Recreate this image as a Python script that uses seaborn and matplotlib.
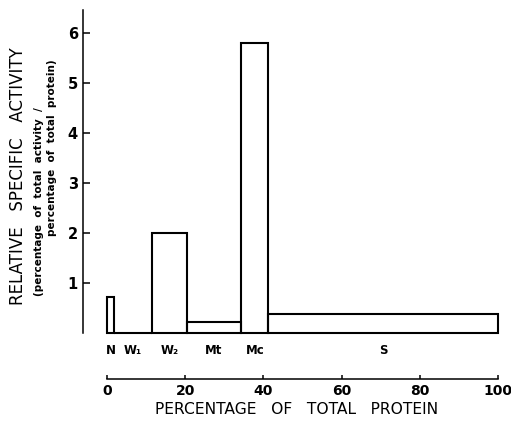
import numpy as np
import pandas as pd
import matplotlib
matplotlib.use("Agg")
import matplotlib.pyplot as plt
import seaborn as sns

# fractions, share of total protein (%), relative specific activity
fractions = ["N", "W\u2081", "W\u2082", "Mt", "Mc", "S"]
protein_pct = [1.8, 9.8, 8.8, 13.9, 7.0, 58.7]
rel_activity = [0.72, 0.0, 2.0, 0.23, 5.8, 0.39]
y_ticks = [1, 2, 3, 4, 5, 6]
x_ticks = [0, 20, 40, 60, 80, 100]

sns.set_style("ticks")
plt.rcParams['font.family'] = ['DejaVu Sans']
plt.rcParams.update({"text.color": "black", "axes.labelcolor": "black",
                     "xtick.color": "black", "ytick.color": "black"})

edges = [0.0] + list(np.cumsum(protein_pct))
centers = [(a + b) / 2 for a, b in zip(edges[:-1], edges[1:])]
df = pd.DataFrame({"fraction": fractions, "center": centers,
                   "rsa": rel_activity})

fig = plt.figure(figsize=(5.11, 4.24), dpi=100)
ax = fig.add_axes([107 / 511, 1 - 333 / 424, (498 - 107) / 511, (333 - 10) / 424])

sns.histplot(data=df, x="center", bins=edges, weights="rsa", fill=False,
             color="black", linewidth=1.5, clip_on=False, ax=ax)

ax.set_xlim(0, 100)
ax.set_ylim(0, 6.46)

# axes styling
ax.spines["top"].set_visible(False)
ax.spines["right"].set_visible(False)
ax.spines["left"].set_position(("outward", 17))
ax.spines["bottom"].set_position(("outward", 33))
for s in ("left", "bottom"):
    ax.spines[s].set_linewidth(1.1)
    ax.spines[s].set_color("black")

ax.set_yticks(y_ticks)
ax.set_yticklabels([str(v) for v in y_ticks], fontsize=10.5, fontweight="bold")
ax.set_xticks(x_ticks)
ax.set_xticklabels([str(v) for v in x_ticks], fontsize=10, fontweight="bold")
ax.tick_params(axis="y", direction="in", length=5, width=1.1, pad=4)
ax.tick_params(axis="x", direction="in", length=3, width=1.1, pad=4)

ax.set_xlabel("PERCENTAGE   OF   TOTAL   PROTEIN", fontsize=11.2, labelpad=0)
ax.xaxis.set_label_coords((297 - 107) / 391, -0.215)
ax.set_ylabel("")

# fraction names under the bars
for name, c in zip(fractions, centers):
    ax.text(c, -0.36, name, ha="center", va="center", fontsize=8.5,
            fontweight="bold")

# y axis titles
fig.text(18 / 511, 1 - 176 / 424, "RELATIVE   SPECIFIC   ACTIVITY", rotation=90,
         ha="center", va="center", fontsize=12)
fig.text(39 / 511, 1 - 202 / 424, "(percentage  of  total  activity  /",
         rotation=90, ha="center", va="center", fontsize=7.5, fontweight="bold")
fig.text(52 / 511, 1 - 148 / 424, "percentage  of  total  protein)",
         rotation=90, ha="center", va="center", fontsize=7.5, fontweight="bold")

fig.savefig("out.png", dpi=100)
